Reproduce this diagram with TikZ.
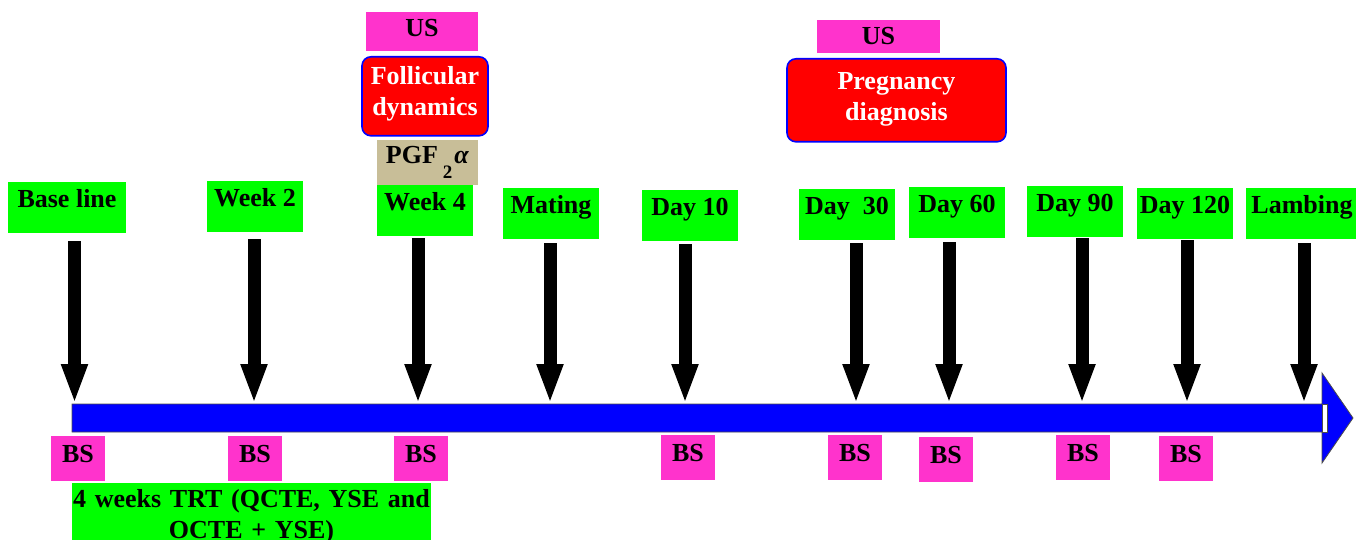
\documentclass[tikz,border=0pt]{standalone}
\usepackage{fontspec}
\setmainfont{Liberation Serif}
\usetikzlibrary{arrows.meta,positioning}
\definecolor{stagegreen}{RGB}{0,255,0}
\definecolor{bspink}{RGB}{255,51,204}
\definecolor{pgftan}{RGB}{200,190,152}
\begin{document}
\begin{tikzpicture}[x=1pt, y=-1pt,
          every node/.style={font=\fontsize{26}{31}\selectfont\bfseries, inner sep=0pt, align=center},
          stagebox/.style={fill=stagegreen, anchor=north, minimum width=96pt, text height=25pt, text depth=26pt},
          bsbox/.style={fill=bspink, anchor=north, minimum width=54pt, text height=26pt, text depth=19pt},
          usbox/.style={fill=bspink, text height=25pt},
          redbox/.style={fill=red, draw=blue, line width=1.6pt, rounded corners=9pt, text=white, anchor=north},
          downarrow/.style={line width=13pt, -{Triangle[length=40pt,width=24pt]}}]
          \useasboundingbox (0,0) rectangle (1356,540);
          \clip (0,0) rectangle (1356,540);
          % time line
          \draw[draw=black!70, fill=blue, line width=0.8pt] (72,404) -- (1322,404) -- (1322,373) -- (1353,418)
            -- (1322,463) -- (1322,432) -- (72,432) -- cycle;
          \draw[fill=white, draw=black!70, line width=0.6pt] (1322,404) rectangle (1327,432);
          % stages
          \node[stagebox, minimum width=118pt] (base) at (67,182) {Base line};
          \node[stagebox] (wk2) at (255,181) {Week 2};
          \node[stagebox] (wk4) at (425,185) {Week 4};
          \node[stagebox] (mating) at (551,188) {Mating};
          \node[stagebox] (d10) at (690,190) {Day 10};
          \node[stagebox] (d30) at (847,189) {Day~~30};
          \node[stagebox] (d60) at (957,187) {Day 60};
          \node[stagebox] (d90) at (1075,186) {Day 90};
          \node[stagebox] (d120) at (1185,188) {Day 120};
          \node[stagebox, minimum width=112pt] (lambing) at (1302,188) {Lambing};
          % arrows down to the time line
          \foreach \x/\y [count=\i] in {74.5/241, 254/239, 418/238, 550/243, 685/244, 856/243, 949/242, 1082/238, 1187/240, 1304/243} {
            \coordinate (top\i) at (\x,\y);
            \coordinate (tip\i) at (\x,404);
            \draw[downarrow] (top\i) -- (tip\i);
          }
          % events above
          \node[redbox, minimum width=126pt, text height=59pt, text depth=20pt] (fol) at (425,56) {Follicular\\dynamics};
          \node[usbox, above=5pt of fol, xshift=-3pt, minimum width=112pt, text depth=14pt] (us1) {US};
          \node[fill=pgftan, below=3pt of fol, xshift=2.5pt, minimum width=101pt, text height=24pt, text depth=21pt] (pgf)
            {PGF\hspace{5pt}\raisebox{-15pt}{\fontsize{19}{19}\selectfont 2}\hspace{2pt}\textit{α}};
          \node[redbox, minimum width=219pt, text height=62pt, text depth=21pt] (preg) at (896.5,58) {Pregnancy\\diagnosis};
          \node[usbox, above=5pt of preg, xshift=-18pt, minimum width=123pt, text depth=8pt] (us2) {US};
          % blood sampling
          \foreach \x/\y [count=\i] in {78/436, 255/436, 421/436, 688/435, 855/435, 946/437, 1083/435, 1186/436}
            \node[bsbox] (bs\i) at (\x,\y) {BS};
          % treatment
          \node[fill=stagegreen, anchor=north, text width=359pt, text height=24pt, text depth=40pt] (trt) at (251.5,483)
            {4 weeks TRT (QCTE, YSE and\\OCTE + YSE)};
\end{tikzpicture}
\end{document}
